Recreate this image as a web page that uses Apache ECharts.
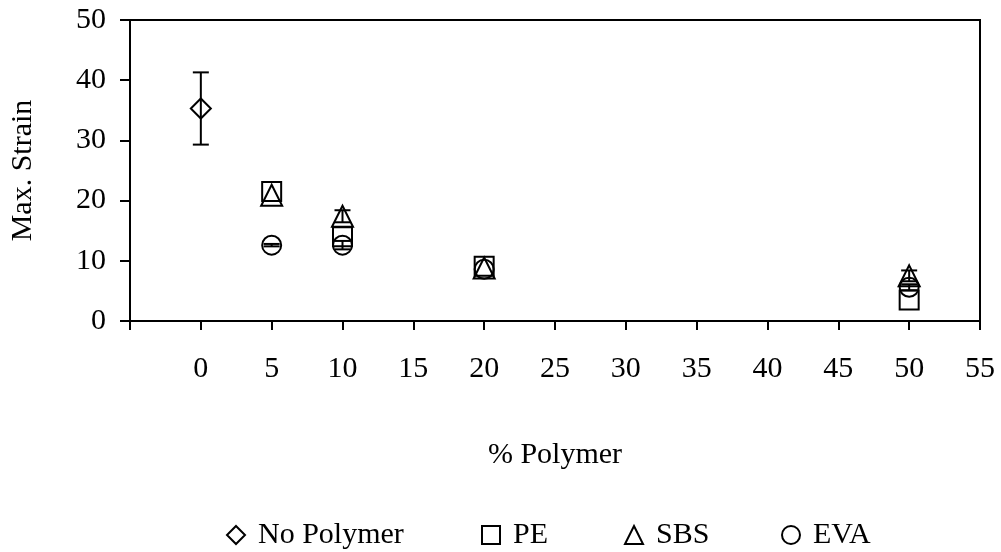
<!DOCTYPE html>
<html>
<head>
<meta charset="utf-8">
<script src="https://cdn.jsdelivr.net/npm/echarts@6/dist/echarts.min.js"></script>
<style>
  html, body { margin: 0; padding: 0; background: #fff; }
  #chart { width: 1001px; height: 552px; }
</style>
</head>
<body>
<div id="chart"></div>
<script>
// % polymer content for each blend series
const noPolymerX = [0];
const peX = [5, 10, 20, 50];
const sbsX = [5, 10, 20, 50];
const evaX = [5, 10, 20, 50];

// Max. strain means
const noPolymerY = [35.3];
const peY = [21.5, 14.0, 9.1, 3.5];
const sbsY = [20.9, 17.4, 8.8, 7.5];
const evaY = [12.6, 12.6, 8.6, 5.6];

// Standard deviations (error bar half-heights)
const noPolymerErr = [6.0];
const peErr = [0, 0, 0, 0];
const sbsErr = [0, 1.0, 0, 0.9];
const evaErr = [0.2, 0.7, 0, 0.5];

const xTicks = [-5, 0, 5, 10, 15, 20, 25, 30, 35, 40, 45, 50, 55];

const FONT = '"Liberation Serif", "Times New Roman", serif';
const FS = 30;
const INK = '#000';

function pts(xs, ys) { return xs.map((x, i) => [x, ys[i]]); }
function errPts(xs, ys, es) {
  return xs.map((x, i) => [x, ys[i], es[i]]).filter(d => d[2] > 0);
}

function errorSeries(name, data) {
  return {
    type: 'custom',
    name: name + ' err',
    data: data,
    silent: true,
    z: 3,
    renderItem: function (params, api) {
      const x = api.value(0), y = api.value(1), e = api.value(2);
      const top = api.coord([x, y + e]);
      const bot = api.coord([x, y - e]);
      const hw = 8;
      const st = { stroke: INK, lineWidth: 2 };
      return {
        type: 'group',
        children: [
          { type: 'line', shape: { x1: top[0], y1: top[1], x2: bot[0], y2: bot[1] }, style: st },
          { type: 'line', shape: { x1: top[0] - hw, y1: top[1], x2: top[0] + hw, y2: top[1] }, style: st },
          { type: 'line', shape: { x1: bot[0] - hw, y1: bot[1], x2: bot[0] + hw, y2: bot[1] }, style: st }
        ]
      };
    }
  };
}

function markerSeries(name, symbol, size, data) {
  return {
    type: 'scatter',
    name: name,
    symbol: symbol,
    symbolSize: size,
    data: data,
    z: 4,
    itemStyle: { color: 'rgba(255,255,255,0)', borderColor: INK, borderWidth: 2, opacity: 1 },
    emphasis: { disabled: true }
  };
}

function legendAt(name, left) {
  return {
    data: [name],
    left: left,
    top: 515,
    itemWidth: 18,
    itemHeight: 18,
    selectedMode: false,
    textStyle: { fontFamily: FONT, fontSize: FS, color: INK, padding: [0, 0, 0, 8] }
  };
}

const chart = echarts.init(document.getElementById('chart'), null, { renderer: 'canvas' });

chart.setOption({
  animation: false,
  backgroundColor: '#fff',
  grid: {
    left: 128, right: 21, top: 20, bottom: 231,
    show: true, borderColor: INK, borderWidth: 2, backgroundColor: 'transparent'
  },
  legend: [
    legendAt('No Polymer', 221),
    legendAt('PE', 476),
    legendAt('SBS', 619),
    legendAt('EVA', 776)
  ],
  xAxis: {
    type: 'value',
    min: xTicks[0],
    max: xTicks[xTicks.length - 1],
    interval: 5,
    name: '% Polymer',
    nameLocation: 'middle',
    nameGap: 119,
    nameTextStyle: { fontFamily: FONT, fontSize: FS, color: INK },
    splitLine: { show: false },
    axisLine: { show: true, onZero: false, lineStyle: { color: INK, width: 2 } },
    axisTick: { show: true, inside: false, length: 9, lineStyle: { color: INK, width: 2 } },
    axisLabel: {
      margin: 33,
      fontFamily: FONT, fontSize: FS, color: INK,
      formatter: v => (v === xTicks[0] ? '' : String(v))
    }
  },
  yAxis: {
    type: 'value',
    min: 0,
    max: 50,
    interval: 10,
    name: 'Max. Strain',
    nameLocation: 'middle',
    nameGap: 92,
    nameTextStyle: { fontFamily: FONT, fontSize: FS, color: INK },
    splitLine: { show: false },
    axisLine: { show: true, onZero: false, lineStyle: { color: INK, width: 2 } },
    axisTick: { show: true, inside: false, length: 10, lineStyle: { color: INK, width: 2 } },
    axisLabel: { margin: 24, fontFamily: FONT, fontSize: FS, color: INK }
  },
  series: [
    errorSeries('No Polymer', errPts(noPolymerX, noPolymerY, noPolymerErr)),
    errorSeries('PE', errPts(peX, peY, peErr)),
    errorSeries('SBS', errPts(sbsX, sbsY, sbsErr)),
    errorSeries('EVA', errPts(evaX, evaY, evaErr)),
    markerSeries('No Polymer', 'diamond', 20, pts(noPolymerX, noPolymerY)),
    markerSeries('PE', 'rect', 19, pts(peX, peY)),
    markerSeries('SBS', 'triangle', 21, pts(sbsX, sbsY)),
    markerSeries('EVA', 'circle', 19, pts(evaX, evaY))
  ]
});
</script>
</body>
</html>
